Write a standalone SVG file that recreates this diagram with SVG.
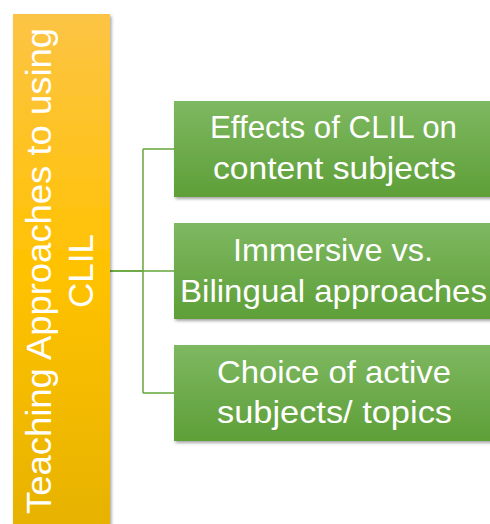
<svg xmlns="http://www.w3.org/2000/svg" width="490" height="524" viewBox="0 0 490 524">
<defs>
<linearGradient id="gBar" x1="0" y1="0" x2="0" y2="1">
<stop offset="0" stop-color="#FCC445"/>
<stop offset="0.5" stop-color="#FFC200"/>
<stop offset="1" stop-color="#E6B200"/>
</linearGradient>
<linearGradient id="gBox" x1="0" y1="0" x2="0" y2="1">
<stop offset="0" stop-color="#7EB861"/>
<stop offset="1" stop-color="#5E9F38"/>
</linearGradient>
<filter id="sh" x="-10%" y="-10%" width="130%" height="130%">
<feDropShadow dx="1.5" dy="2" stdDeviation="1.8" flood-color="#000" flood-opacity="0.35"/>
</filter>
</defs>
<style>
.box{fill:url(#gBox);filter:url(#sh)}
.bar{fill:url(#gBar);filter:url(#sh)}
.t{font-family:"Liberation Sans","Open Sans",sans-serif;fill:#fff;text-anchor:middle}
.bt{font-size:32px}
.rt{font-size:35px}
.c{stroke:#6EAB46;fill:none}
</style>
<rect width="490" height="524" fill="#fff"/>
<g id="connectors">
<line class="c" x1="110" y1="271" x2="143" y2="271" stroke-width="2"/>
<line class="c" x1="143" y1="149" x2="143" y2="393" stroke-width="1.6"/>
<line class="c" x1="143" y1="149" x2="174" y2="149" stroke-width="1.6"/>
<line class="c" x1="143" y1="271" x2="174" y2="271" stroke-width="1.6"/>
<line class="c" x1="143" y1="393" x2="174" y2="393" stroke-width="1.6"/>
</g>
<g id="root">
<rect class="bar" x="13" y="14" width="97" height="520"/>
<text class="t rt" transform="translate(51,271) rotate(-90)" textLength="486" lengthAdjust="spacingAndGlyphs">Teaching Approaches to using</text>
<text class="t rt" transform="translate(93,271) rotate(-90)">CLIL</text>
</g>
<g id="node1">
<rect class="box" x="174" y="101" width="320" height="96"/>
<text class="t bt" x="333.5" y="138" textLength="247" lengthAdjust="spacingAndGlyphs">Effects of CLIL on</text>
<text class="t bt" x="334.5" y="179" textLength="243" lengthAdjust="spacingAndGlyphs">content subjects</text>
</g>
<g id="node2">
<rect class="box" x="174" y="223" width="320" height="96"/>
<text class="t bt" x="333" y="261" textLength="200" lengthAdjust="spacingAndGlyphs">Immersive vs.</text>
<text class="t bt" x="333.5" y="302" textLength="307" lengthAdjust="spacingAndGlyphs">Bilingual approaches</text>
</g>
<g id="node3">
<rect class="box" x="174" y="345" width="320" height="96"/>
<text class="t bt" x="334" y="383" textLength="234" lengthAdjust="spacingAndGlyphs">Choice of active</text>
<text class="t bt" x="334.5" y="423" textLength="235" lengthAdjust="spacingAndGlyphs">subjects/ topics</text>
</g>
</svg>
